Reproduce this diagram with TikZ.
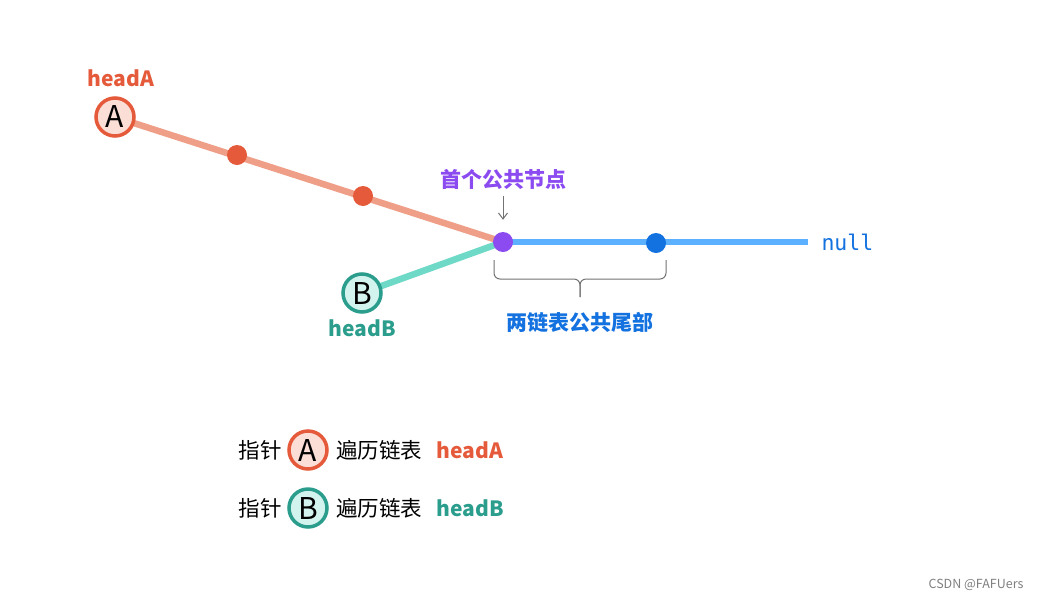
\documentclass[tikz,border=0pt]{standalone}
\usepackage{fontspec}
\setmainfont{Noto Sans CJK SC}
\newfontfamily\monof{DejaVu Sans Mono}
\usetikzlibrary{arrows.meta,backgrounds}
\definecolor{cA}{HTML}{E55A3A}
\definecolor{fA}{HTML}{FBDED6}
\definecolor{lA}{HTML}{EF9F88}
\definecolor{cB}{HTML}{2A9D8C}
\definecolor{fB}{HTML}{D3F3EE}
\definecolor{lB}{HTML}{6FD9C8}
\definecolor{cP}{HTML}{8B4BF0}
\definecolor{cBl}{HTML}{1472E0}
\definecolor{lBl}{HTML}{5BB0FF}
\tikzset{
  ptrA/.style={circle,draw=cA,fill=fA,line width=3.5pt,minimum size=38pt,inner sep=0pt,font=\fontsize{30}{32}\selectfont},
  ptrB/.style={circle,draw=cB,fill=fB,line width=3.5pt,minimum size=38pt,inner sep=0pt,font=\fontsize{30}{32}\selectfont},
  dot/.style={circle,fill=#1,minimum size=20pt,inner sep=0pt},
  lbl/.style={font=\fontsize{21}{24}\selectfont\bfseries,text=#1},
  legtxt/.style={font=\fontsize{21.5}{24}\selectfont},
  seg/.style={line width=6.5pt,draw=#1},
  thin/.style={draw=black!55,line width=1pt},
}
\begin{document}
\begin{tikzpicture}[x=1pt,y=-1pt]
\useasboundingbox (0,0) rectangle (1038,600);
% nodes
\node[ptrA] (A) at (115,117) {A};
\node[lbl=cA] (hA) at (121,78) {headA};
\node[dot=cA] (a1) at (237,155) {};
\node[dot=cA] (a2) at (363,196) {};
\node[ptrB] (B) at (362,293) {B};
\node[lbl=cB] (hB) at (362,328) {headB};
\node[dot=cP] (P) at (503,242) {};
\node[dot=cBl] (c1) at (656,243) {};
\coordinate (nullend) at (808,242);
\node[anchor=west,font=\monof\fontsize{21.5}{24}\selectfont,text=cBl] (null) at (818,242) {null};
\node[lbl=cP] (first) at (503,179) {首个公共节点};
\node[lbl=cBl] (tail) at (580,322) {两链表公共尾部};
\begin{pgfonlayer}{background}
\fill[white] (0,0) rectangle (1038,600);
\draw[seg=lA] (A.center) -- (P.center);
\draw[seg=lB] (B.center) -- (P.center);
\draw[seg=lBl] (P.center) -- (nullend);
\end{pgfonlayer}
\draw[thin,-{Straight Barb[length=6pt,width=9pt]}] ([yshift=-3pt]first.south) -- ([yshift=12pt]P.north);
% brace
\coordinate (br1) at (494,260);
\coordinate (br2) at (666,260);
\coordinate (brT) at (580,297);
\draw[thin,rounded corners=6pt] (br1) -- (br1 |- 0,279) -- (brT |- 0,279) -- (brT);
\draw[thin,rounded corners=6pt] (br2) -- (br2 |- 0,279) -- (brT |- 0,279) -- (brT);
% legend
\node[legtxt] (l1) at (260,450) {指针};
\node[ptrA] (LA) at (308,450) {A};
\node[legtxt] (l2) at (379,450) {遍历链表};
\node[lbl=cA] (l3) at (470,450) {headA};
\node[legtxt] (m1) at (260,508) {指针};
\node[ptrB] (LB) at (308,508) {B};
\node[legtxt] (m2) at (379,508) {遍历链表};
\node[lbl=cB] (m3) at (470,508) {headB};
\node[font=\fontsize{12.5}{14}\selectfont,text=black!50] (wm) at (976,585) {CSDN @FAFUers};
\end{tikzpicture}
\end{document}
